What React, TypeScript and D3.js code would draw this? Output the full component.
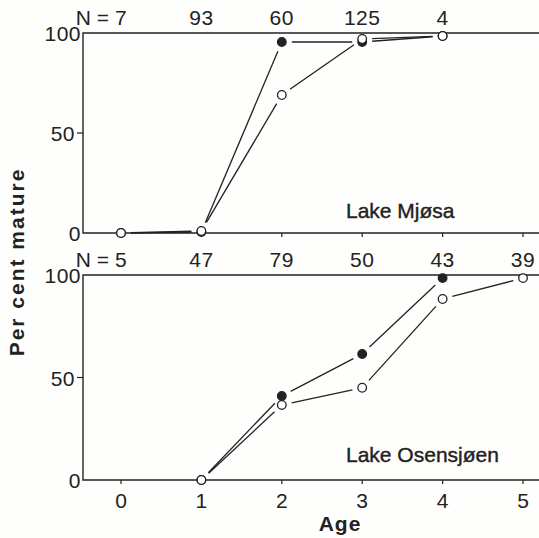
import React from "react";
import * as d3 from "d3";

// Age classes on the x axis
const ages = [0, 1, 2, 3, 4, 5];
const yTicks = [0, 50, 100];

// Lake Mjøsa: sample sizes and per cent mature (females filled, males open)
const mjosaN = ["7", "93", "60", "125", "4"];
const mjosaNAges = [0, 1, 2, 3, 4];
const mjosaFilledAges = [0, 1, 2, 3, 4];
const mjosaFilled = [0, 0.5, 95.5, 95.5, 98.5];
const mjosaOpenAges = [0, 1, 2, 3, 4];
const mjosaOpen = [0, 1, 69, 97, 98.5];

// Lake Osensjøen
const osenN = ["5", "47", "79", "50", "43", "39"];
const osenNAges = [0, 1, 2, 3, 4, 5];
const osenFilledAges = [1, 2, 3, 4];
const osenFilled = [0, 41, 61.5, 98.5];
const osenOpenAges = [1, 2, 3, 4, 5];
const osenOpen = [0, 36.6, 45, 88.3, 98.5];

const W = 539;
const H = 538;
const FONT = "'Liberation Sans', Arial, Helvetica, sans-serif";
const INK = "#222";

const x = d3.scaleLinear().domain([0, 5]).range([121, 523]);
const xLeft = 83;
const xRight = 539;

type Series = { ages: number[]; values: number[]; filled: boolean };

function segments(s: Series, y: d3.ScaleLinear<number, number>, gap: number) {
  const pts = s.ages.map((a, i) => [x(a), y(s.values[i])] as [number, number]);
  const out: [number, number, number, number][] = [];
  for (let i = 0; i < pts.length - 1; i++) {
    const [x0, y0] = pts[i];
    const [x1, y1] = pts[i + 1];
    const len = Math.hypot(x1 - x0, y1 - y0);
    if (len <= gap * 2) continue;
    const ux = (x1 - x0) / len;
    const uy = (y1 - y0) / len;
    out.push([x0 + ux * gap, y0 + uy * gap, x1 - ux * gap, y1 - uy * gap]);
  }
  return { pts, out };
}

function Panel(props: {
  top: number;
  bottom: number;
  nLabels: string[];
  nAges: number[];
  series: Series[];
  title: string;
  titleY: number;
  xLabels: boolean;
}) {
  const { top, bottom, nLabels, nAges, series, title, titleY, xLabels } = props;
  const y = d3.scaleLinear().domain([0, 100]).range([bottom, top]);
  const drawn = series.map((s) => ({ s, ...segments(s, y, 10) }));
  return (
    <g>
      {/* frame: left, top and bottom lines */}
      <path
        d={`M${xRight},${y(100)}H${xLeft}V${y(0)}H${xRight}`}
        fill="none"
        stroke={INK}
        strokeWidth={1.4}
      />
      {/* y axis */}
      {yTicks.map((t) => (
        <g key={t}>
          {t === 50 && (
            <line x1={xLeft - 6} x2={xLeft} y1={y(t)} y2={y(t)} stroke={INK} strokeWidth={1.2} />
          )}
          <text
            x={t === 50 ? xLeft - 8 : xLeft - 2}
            y={y(t) + 8}
            textAnchor="end"
            fontSize={21}
            fontFamily={FONT}
            letterSpacing={0.5}
            fill={INK}
          >
            {t}
          </text>
        </g>
      ))}
      {/* x ticks */}
      {ages.map((a) => (
        <g key={a}>
          <line x1={x(a)} x2={x(a)} y1={y(0)} y2={y(0) + 4} stroke={INK} strokeWidth={1.2} />
          {xLabels && (
            <text
              x={x(a)}
              y={y(0) + 28}
              textAnchor="middle"
              fontSize={21}
              fontFamily={FONT}
              fill={INK}
            >
              {a}
            </text>
          )}
        </g>
      ))}
      {/* sample sizes */}
      {nLabels.map((n, i) => (
        <text
          key={i}
          x={x(nAges[i])}
          y={top - 8}
          textAnchor="middle"
          fontSize={21}
          fontFamily={FONT}
          letterSpacing={0.5}
          fill={INK}
        >
          {n}
        </text>
      ))}
      <text
        x={x(nAges[0]) - 12}
        y={top - 8}
        textAnchor="end"
        fontSize={21}
        fontFamily={FONT}
        fill={INK}
      >
        N =
      </text>
      {/* connecting lines, stopping short of the markers */}
      {drawn.map((d, k) =>
        d.out.map((sg, i) => (
          <line
            key={`${k}-${i}`}
            x1={sg[0]}
            y1={sg[1]}
            x2={sg[2]}
            y2={sg[3]}
            stroke={INK}
            strokeWidth={1.3}
          />
        ))
      )}
      {/* markers */}
      {drawn.map((d, k) =>
        d.pts.map((p, i) => (
          <circle
            key={`c${k}-${i}`}
            cx={p[0]}
            cy={p[1]}
            r={4.3}
            fill={d.s.filled ? INK : "#fff"}
            stroke={INK}
            strokeWidth={1.3}
          />
        ))
      )}
      <text
        x={346}
        y={titleY}
        fontSize={21}
        fontFamily={FONT}
        fill={INK}
        stroke={INK}
        strokeWidth={0.4}
      >
        {title}
      </text>
    </g>
  );
}

export default function App() {
  return (
    <svg
      width={W}
      height={H}
      viewBox={`0 0 ${W} ${H}`}
      style={{ position: "absolute", left: 0, top: 0, background: "#fefefc" }}
    >
      <Panel
        top={33}
        bottom={233}
        nLabels={mjosaN}
        nAges={mjosaNAges}
        series={[
          { ages: mjosaFilledAges, values: mjosaFilled, filled: true },
          { ages: mjosaOpenAges, values: mjosaOpen, filled: false },
        ]}
        title="Lake Mjøsa"
        titleY={218}
        xLabels={false}
      />
      <Panel
        top={275}
        bottom={480}
        nLabels={osenN}
        nAges={osenNAges}
        series={[
          { ages: osenFilledAges, values: osenFilled, filled: true },
          { ages: osenOpenAges, values: osenOpen, filled: false },
        ]}
        title="Lake Osensjøen"
        titleY={462}
        xLabels={true}
      />
      <text
        transform="translate(24,262) rotate(-90)"
        textAnchor="middle"
        fontSize={21}
        fontWeight="bold"
        fontFamily={FONT}
        letterSpacing={2}
        fill={INK}
      >
        Per cent mature
      </text>
      <text
        x={340}
        y={531}
        textAnchor="middle"
        fontSize={21}
        fontWeight="bold"
        fontFamily={FONT}
        letterSpacing={1}
        fill={INK}
      >
        Age
      </text>
    </svg>
  );
}
